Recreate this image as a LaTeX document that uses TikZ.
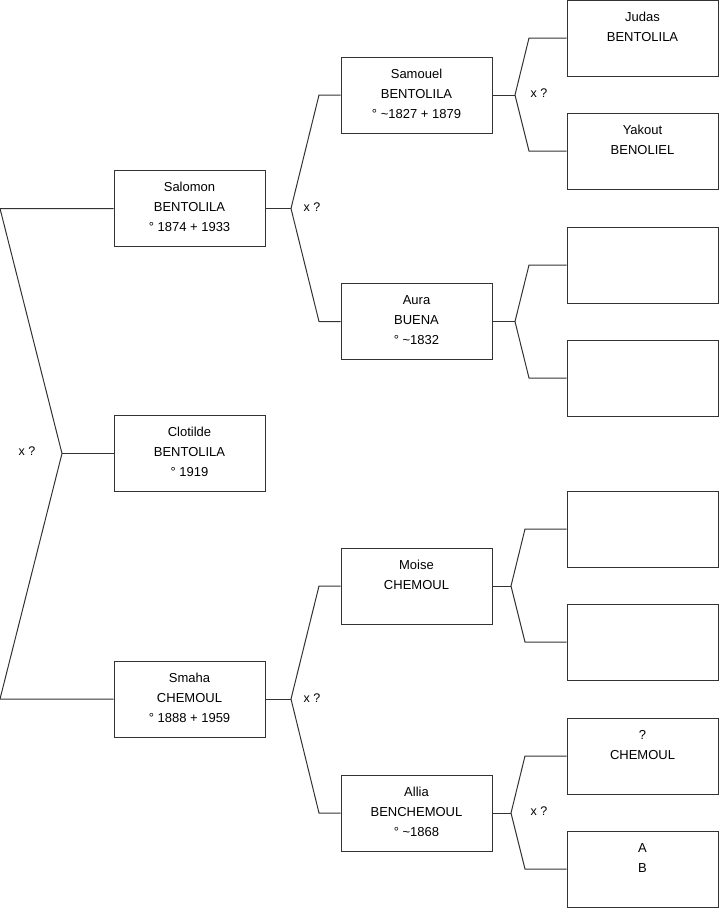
\documentclass[tikz,border=0pt]{standalone}
\usepackage{fontspec}
\setmainfont{Liberation Sans}

% card text: fixed-size box, lines hung from the top
\newcommand{\card}[1]{\parbox[t][76pt][t]{151pt}{\centering\rule{0pt}{21pt}#1}}

\begin{document}
\begin{tikzpicture}[
    x=1pt, y=-1pt,
    person/.style={rectangle, draw=linegray, line width=1pt, inner sep=0pt, font=\fontsize{13}{20}\selectfont},
    link/.style={draw=linegray, line width=1pt, line join=miter},
    union/.style={font=\fontsize{12.5}{15}\selectfont, inner sep=0pt}
]

% Colors
\definecolor{linegray}{RGB}{51,51,51}

\useasboundingbox (0,0) rectangle (719,908);

% Generation 1
\node[person] (clo) at (189.5,453.5) {\card{Clotilde\\BENTOLILA\\° 1919}};

% Generation 2
\node[person] (sal) at (189.5,208.5) {\card{Salomon\\BENTOLILA\\° 1874 + 1933}};
\node[person] (sma) at (189.5,699)   {\card{Smaha\\CHEMOUL\\° 1888 + 1959}};

% Generation 3
\node[person] (sam) at (416.5,95)    {\card{Samouel\\BENTOLILA\\° \textasciitilde1827 + 1879}};
\node[person] (aur) at (416.5,321.5) {\card{Aura\\BUENA\\° \textasciitilde1832}};
\node[person] (moi) at (416.5,586)   {\card{Moise\\CHEMOUL}};
\node[person] (all) at (416.5,813)   {\card{Allia\\BENCHEMOUL\\° \textasciitilde1868}};

% Generation 4
\node[person] (jud) at (642.5,38)  {\card{Judas\\BENTOLILA}};
\node[person] (yak) at (642.5,151) {\card{Yakout\\BENOLIEL}};
\node[person] (aurf) at (642.5,265) {\card{}};
\node[person] (aurm) at (642.5,378) {\card{}};
\node[person] (moif) at (642.5,529) {\card{}};
\node[person] (moim) at (642.5,642) {\card{}};
\node[person] (allf) at (642.5,756) {\card{?\\CHEMOUL}};
\node[person] (allm) at (642.5,869) {\card{A\\B}};

% Forks
\coordinate (fclo) at (62,453.5);
\coordinate (fsal) at (291,208.5);
\coordinate (fsma) at (291,699);
\coordinate (fsam) at (515,95);
\coordinate (faur) at (515,321.5);
\coordinate (fmoi) at (511,586);
\coordinate (fall) at (511,813);

% Links
\draw[link] (clo.west) -- (fclo);
\draw[link] (sal.west) -- (0,208.5) -- (fclo) -- (0,699) -- (sma.west);

\draw[link] (sal.east) -- (fsal);
\draw[link] (sam.west) -- (319,95) -- (fsal) -- (319,321.5) -- (aur.west);

\draw[link] (sma.east) -- (fsma);
\draw[link] (moi.west) -- (319,586) -- (fsma) -- (319,813) -- (all.west);

\draw[link] (sam.east) -- (fsam);
\draw[link] (jud.west) -- (529,38) -- (fsam) -- (529,151) -- (yak.west);

\draw[link] (aur.east) -- (faur);
\draw[link] (aurf.west) -- (529,265) -- (faur) -- (529,378) -- (aurm.west);

\draw[link] (moi.east) -- (fmoi);
\draw[link] (moif.west) -- (525,529) -- (fmoi) -- (525,642) -- (moim.west);

\draw[link] (all.east) -- (fall);
\draw[link] (allf.west) -- (525,756) -- (fall) -- (525,869) -- (allm.west);

% Unions
\node[union] (uclo) at (27,451) {x ?};
\node[union] (usal) at (312,207) {x ?};
\node[union] (usma) at (312,698) {x ?};
\node[union] (usam) at (539,93) {x ?};
\node[union] (uall) at (539,811) {x ?};

\end{tikzpicture}
\end{document}
